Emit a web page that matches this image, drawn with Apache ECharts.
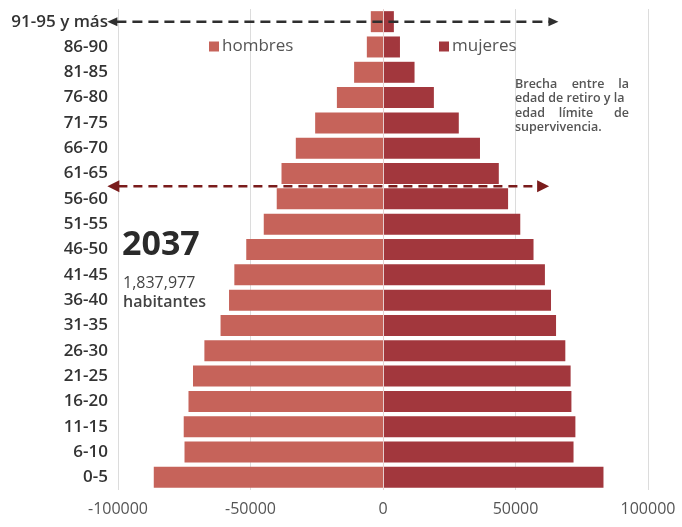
<!DOCTYPE html>
<html>
<head>
<meta charset="utf-8">
<script src="https://cdn.jsdelivr.net/npm/echarts@6/dist/echarts.min.js"></script>
<style>
html, body { margin: 0; padding: 0; background: #fff; }
#main { width: 682px; height: 527px; }
</style>
</head>
<body>
<div id="main"></div>
<script>
// grupos de edad, de abajo hacia arriba
var ageGroups = ['0-5', '6-10', '11-15', '16-20', '21-25', '26-30', '31-35', '36-40', '41-45',
	'46-50', '51-55', '56-60', '61-65', '66-70', '71-75', '76-80', '81-85', '86-90', '91-95 y más'];
var hombres = [86500, 74900, 75200, 73400, 71700, 67400, 61300, 58100, 56100,
	51600, 45000, 40100, 38300, 32900, 25600, 17400, 10900, 6100, 4600];
var mujeres = [83200, 71900, 72600, 71100, 70800, 68800, 65300, 63400, 61100,
	56800, 51800, 47200, 43700, 36600, 28600, 19200, 11900, 6400, 4100];
var xTicks = [-100000, -50000, 0, 50000, 100000];

var FONT = '"Open Sans", sans-serif';
var colorH = '#c6635a';
var colorM = '#a2373d';

var myChart = echarts.init(document.getElementById('main'));

var option = {
	animation: false,
	textStyle: { fontFamily: FONT },
	grid: { left: 118, right: 34, top: 9, bottom: 37 },
	legend: [{
		data: ['hombres'], left: 204, top: 33,
		icon: 'rect', itemWidth: 10, itemHeight: 10, itemGap: 4,
		textStyle: { fontSize: 17, color: '#555', fontFamily: FONT, padding: [0, 0, 0, -2] }
	}, {
		data: ['mujeres'], left: 434, top: 33,
		icon: 'rect', itemWidth: 10, itemHeight: 10, itemGap: 4,
		textStyle: { fontSize: 17, color: '#555', fontFamily: FONT, padding: [0, 0, 0, -2] }
	}],
	xAxis: {
		type: 'value',
		min: xTicks[0],
		max: xTicks[xTicks.length - 1],
		interval: 50000,
		axisLine: { show: false },
		axisTick: { show: false },
		axisLabel: {
			fontSize: 16, color: '#555', margin: 11, fontFamily: FONT,
			formatter: function(v) { return String(v); }
		},
		splitLine: { lineStyle: { color: '#dcdcdc', width: 1 } }
	},
	yAxis: {
		type: 'category',
		data: ageGroups,
		axisLine: { show: false },
		axisTick: { show: false },
		axisLabel: { fontSize: 17, fontWeight: 600, color: '#333', margin: 10, fontFamily: FONT }
	},
	series: [{
		name: 'hombres',
		type: 'bar',
		stack: 'pop',
		barWidth: 21,
		itemStyle: { color: colorH },
		data: hombres.map(function(v) { return -v; })
	}, {
		name: 'mujeres',
		type: 'bar',
		stack: 'pop',
		barWidth: 21,
		itemStyle: { color: colorM },
		data: mujeres,
		markLine: {
			silent: true,
			symbol: 'none',
			label: { show: false },
			lineStyle: { color: '#e6cfcf', width: 1, type: 'solid' },
			data: [{ xAxis: 0 }]
		}
	}]
};
myChart.setOption(option);

// flechas punteadas y textos
function arrow(x1, x2, y, color, dash, w, hl, hh) {
	return [{
		type: 'line', z: 100,
		shape: { x1: x1 + hl - 1, y1: y, x2: x2 - hl + 1, y2: y },
		style: { stroke: color, lineWidth: w, lineDash: dash }
	}, {
		type: 'polygon', z: 100,
		shape: { points: [[x1, y], [x1 + hl, y - hh / 2], [x1 + hl, y + hh / 2]] },
		style: { fill: color }
	}, {
		type: 'polygon', z: 100,
		shape: { points: [[x2, y], [x2 - hl, y - hh / 2], [x2 - hl, y + hh / 2]] },
		style: { fill: color }
	}];
}

var topY = myChart.convertToPixel({ yAxisIndex: 0 }, '91-95 y más');
var midY = (myChart.convertToPixel({ yAxisIndex: 0 }, '61-65') +
	myChart.convertToPixel({ yAxisIndex: 0 }, '56-60')) / 2;
var leftX = myChart.convertToPixel({ xAxisIndex: 0 }, -104000);
var rightTop = myChart.convertToPixel({ xAxisIndex: 0 }, 66200);
var rightMid = myChart.convertToPixel({ xAxisIndex: 0 }, 62700);

var noteStyle = { fontSize: 12.5, fontWeight: 600, fill: '#555', fontFamily: FONT };
function note(text, x, y, align) {
	return {
		type: 'text', z: 100,
		style: echarts.util.extend({ text: text, x: x, y: y, align: align, verticalAlign: 'middle' }, noteStyle)
	};
}

var elements = []
	.concat(arrow(leftX, rightTop, topY, '#2f2f2f', [10, 6], 2.5, 10, 9))
	.concat(arrow(leftX, rightMid, midY, '#7a1c1c', [9, 6], 2.5, 12, 12))
	.concat([
		{ type: 'text', z: 100, style: { text: '2037', x: 122, y: 245, verticalAlign: 'middle',
			fontSize: 34, fontWeight: 700, fill: '#2a2a2a', fontFamily: FONT } },
		{ type: 'text', z: 100, style: { text: '1,837,977', x: 123, y: 283, verticalAlign: 'middle',
			fontSize: 16, fill: '#444', fontFamily: FONT } },
		{ type: 'text', z: 100, style: { text: 'habitantes', x: 123, y: 302, verticalAlign: 'middle',
			fontSize: 16, fontWeight: 600, fill: '#444', fontFamily: FONT } },
		note('Brecha', 515, 84, 'left'), note('entre', 588, 84, 'center'), note('la', 629, 84, 'right'),
		note('edad de retiro y la', 515, 98.5, 'left'),
		note('edad', 515, 113, 'left'), note('límite', 576, 113, 'center'), note('de', 629, 113, 'right'),
		note('supervivencia.', 515, 127, 'left')
	]);

myChart.setOption({ graphic: { elements: elements } });
</script>
</body>
</html>
